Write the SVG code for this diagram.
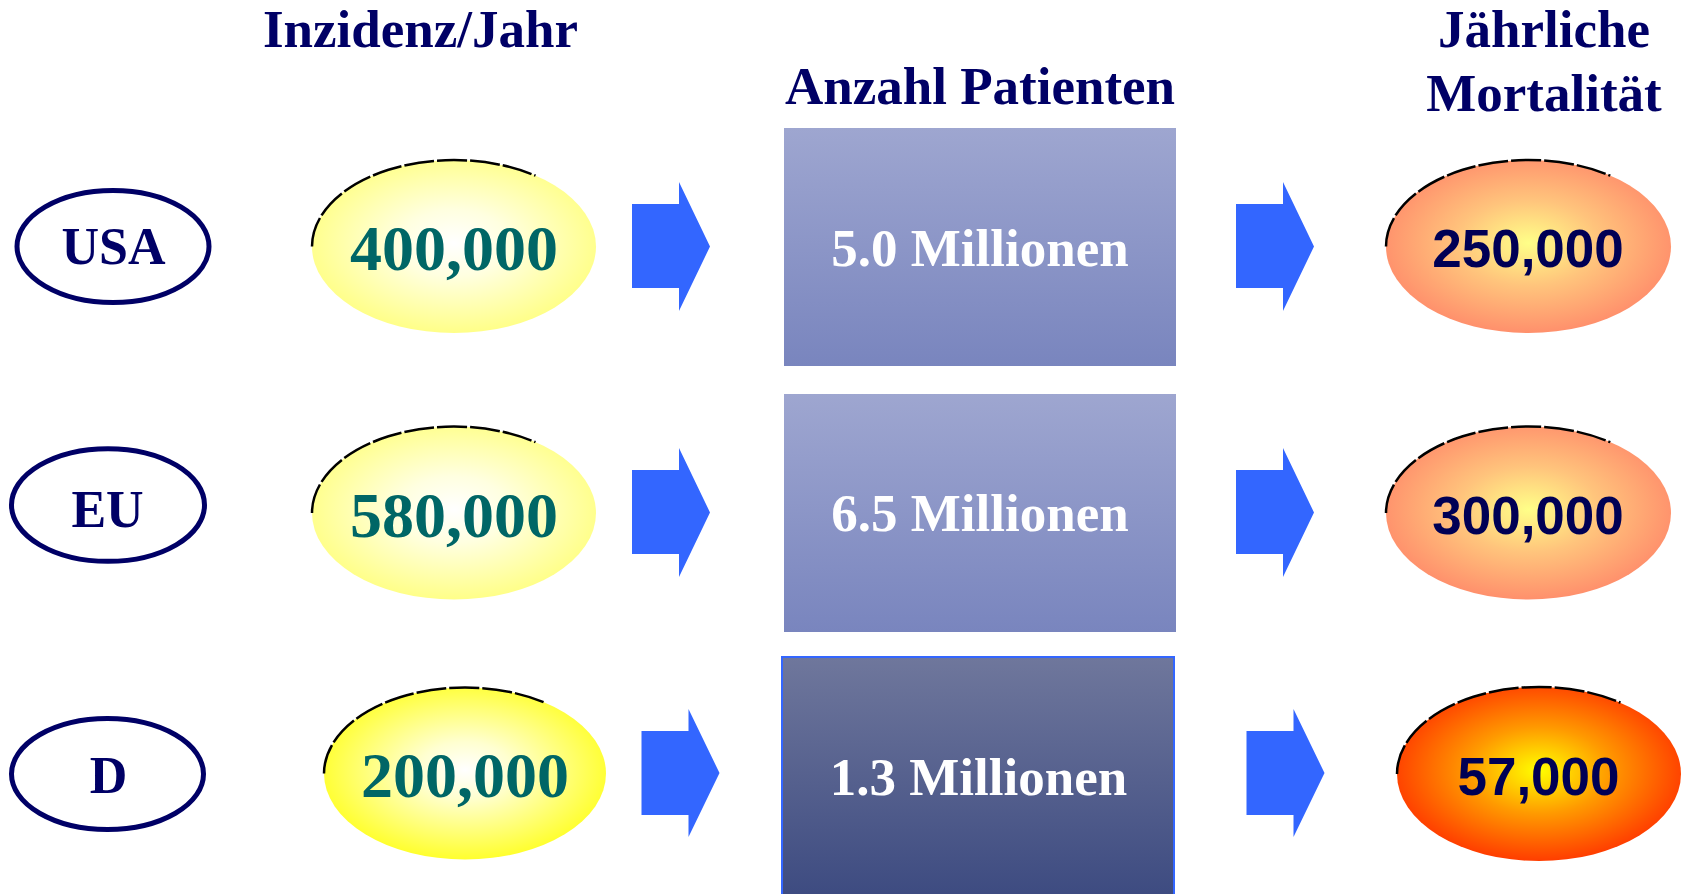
<svg xmlns="http://www.w3.org/2000/svg" width="1682" height="894" viewBox="0 0 1682 894">
<style>
.title{font-family:"Liberation Serif","Times New Roman",serif;font-weight:bold;font-size:53px;fill:#000066;text-anchor:middle}
.cty{font-family:"Liberation Serif","Times New Roman",serif;font-weight:bold;font-size:52px;fill:#000066;text-anchor:middle}
.inc{font-family:"Liberation Serif","Times New Roman",serif;font-weight:bold;font-size:64px;fill:#006666;text-anchor:middle}
.pat{font-family:"Liberation Serif","Times New Roman",serif;font-weight:bold;font-size:53px;fill:#ffffff;text-anchor:middle}
.mort{font-family:"Liberation Sans",Arial,sans-serif;font-weight:bold;font-size:53px;fill:#000055;text-anchor:middle}
.ring{fill:#ffffff;stroke:#000066;stroke-width:5}
.rim{fill:none;stroke:#000000;stroke-width:2.5;stroke-dasharray:30 3}
.arrow{fill:#3366ff}
</style>
<defs>
<radialGradient id="gYel" cx="50%" cy="48%" r="55%">
<stop offset="0" stop-color="#ffffff"/>
<stop offset="0.35" stop-color="#ffffe0"/>
<stop offset="1" stop-color="#ffff80"/>
</radialGradient>
<radialGradient id="gYel2" cx="50%" cy="48%" r="55%">
<stop offset="0" stop-color="#ffffff"/>
<stop offset="0.3" stop-color="#ffffd0"/>
<stop offset="1" stop-color="#ffff20"/>
</radialGradient>
<radialGradient id="gSal" cx="50%" cy="48%" r="55%">
<stop offset="0" stop-color="#ffff88"/>
<stop offset="0.45" stop-color="#ffc47c"/>
<stop offset="1" stop-color="#ff8a6a"/>
</radialGradient>
<radialGradient id="gRed" cx="50%" cy="48%" r="55%">
<stop offset="0" stop-color="#ffff00"/>
<stop offset="0.45" stop-color="#ff9a00"/>
<stop offset="1" stop-color="#ff3300"/>
</radialGradient>
<linearGradient id="gBox" x1="0" y1="0" x2="0" y2="1">
<stop offset="0" stop-color="#9ea6d0"/>
<stop offset="1" stop-color="#7985be"/>
</linearGradient>
<linearGradient id="gBox3" x1="0" y1="0" x2="0" y2="1">
<stop offset="0" stop-color="#6f779c"/>
<stop offset="1" stop-color="#3c4a80"/>
</linearGradient>
</defs>
<rect width="1682" height="894" fill="#ffffff"/>

<g id="titles">
<text class="title" x="420.5" y="47">Inzidenz/Jahr</text>
<text class="title" x="980" y="104">Anzahl Patienten</text>
<text class="title" x="1544" y="47">Jährliche</text>
<text class="title" x="1544" y="111">Mortalität</text>
</g>

<g id="country-usa">
<ellipse class="ring" cx="113" cy="246.5" rx="96" ry="56"/>
<text class="cty" x="113.5" y="264">USA</text>
</g>
<g id="country-eu">
<ellipse class="ring" cx="108" cy="505" rx="96.5" ry="56.3"/>
<text class="cty" x="107.5" y="527">EU</text>
</g>
<g id="country-d">
<ellipse class="ring" cx="107.5" cy="774" rx="96" ry="55.5"/>
<text class="cty" x="108.5" y="793">D</text>
</g>

<g id="incidence-usa">
<ellipse cx="454" cy="246.5" rx="142" ry="86.5" fill="url(#gYel)"/>
<path class="rim" d="M312,246.5 A142,86.5 0 0 1 535.5,175.7"/>
<text class="inc" x="454" y="270">400,000</text>
</g>
<g id="incidence-eu">
<ellipse cx="454" cy="513" rx="142" ry="86.5" fill="url(#gYel)"/>
<path class="rim" d="M312,513 A142,86.5 0 0 1 535.5,442.2"/>
<text class="inc" x="454" y="536.5">580,000</text>
</g>
<g id="incidence-d">
<ellipse cx="465" cy="773.5" rx="141" ry="86" fill="url(#gYel2)"/>
<path class="rim" d="M324,773.5 A141,86 0 0 1 545.9,703.1"/>
<text class="inc" x="465" y="797">200,000</text>
</g>

<g id="patients-usa">
<rect x="784" y="128" width="392" height="238" fill="url(#gBox)"/>
<text class="pat" x="980" y="266">5.0 Millionen</text>
</g>
<g id="patients-eu">
<rect x="784" y="394" width="392" height="238" fill="url(#gBox)"/>
<text class="pat" x="980" y="531">6.5 Millionen</text>
</g>
<g id="patients-d">
<rect x="782" y="657" width="392" height="245" fill="url(#gBox3)" stroke="#3366ff" stroke-width="2"/>
<text class="pat" x="978.5" y="795">1.3 Millionen</text>
</g>

<g id="mortality-usa">
<ellipse cx="1528.5" cy="246.5" rx="142.5" ry="86.5" fill="url(#gSal)"/>
<path class="rim" d="M1386,246.5 A142.5,86.5 0 0 1 1610.3,175.7"/>
<text class="mort" x="1528" y="267">250,000</text>
</g>
<g id="mortality-eu">
<ellipse cx="1528.5" cy="513" rx="142.5" ry="86.5" fill="url(#gSal)"/>
<path class="rim" d="M1386,513 A142.5,86.5 0 0 1 1610.3,442.2"/>
<text class="mort" x="1528" y="533.5">300,000</text>
</g>
<g id="mortality-d">
<ellipse cx="1539" cy="774" rx="142" ry="87" fill="url(#gRed)"/>
<path class="rim" d="M1397,774 A142,87 0 0 1 1620.5,702.7"/>
<text class="mort" x="1538.5" y="795">57,000</text>
</g>

<g id="connectors">
<polygon class="arrow" points="632,204 679,204 679,182 710,246.5 679,311 679,288 632,288"/>
<polygon class="arrow" points="632,470 679,470 679,448 710,512.5 679,577 679,554 632,554"/>
<polygon class="arrow" points="641.5,731 688.5,731 688.5,709 719.5,773 688.5,837 688.5,815 641.5,815"/>
<polygon class="arrow" points="1236,204 1283,204 1283,182 1314,246.5 1283,311 1283,288 1236,288"/>
<polygon class="arrow" points="1236,470 1283,470 1283,448 1314,512.5 1283,577 1283,554 1236,554"/>
<polygon class="arrow" points="1246.5,731 1293.5,731 1293.5,709 1324.5,773 1293.5,837 1293.5,815 1246.5,815"/>
</g>
</svg>
